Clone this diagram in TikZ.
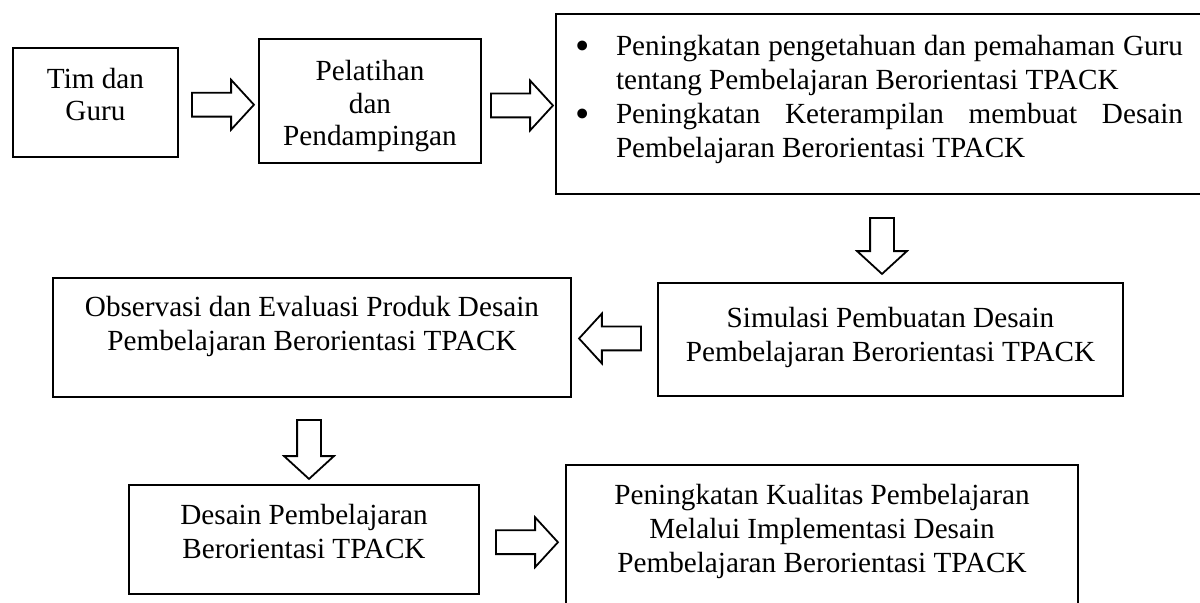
\documentclass[tikz,border=0pt]{standalone}
\usepackage{fontspec}
\setmainfont{Liberation Serif}
\usetikzlibrary{calc,shapes.arrows}
\newcommand{\bulletmark}{\leavevmode\llap{\raisebox{-1.6pt}{\scalebox{1.4}{\textbullet}}\hspace{13pt}}}
\tikzset{
  box/.style={draw, line width=1pt, inner sep=0pt, anchor=north west},
  barrow/.style={single arrow, draw, line width=0.9pt, inner xsep=0pt, inner ysep=5.5pt,
    single arrow head extend=6.5pt, minimum height=31pt, minimum width=24pt, single arrow tip angle=95},
  every node/.style={font=\fontsize{14.6pt}{17pt}\selectfont},
}
\begin{document}
\begin{tikzpicture}[x=0.5pt,y=-0.5pt]
\fill[white] (0,0) rectangle (1200,603);
\useasboundingbox (0,0) rectangle (1200,603);
% boxes
\node[box] (b1) at (12,47) {\parbox[c][54.5pt][t]{82.5pt}{\centering\fontsize{14.6pt}{16pt}\selectfont\rule{0pt}{20.5pt}Tim dan\\Guru}};
\node[box] (b2) at (258,38) {\parbox[c][62pt][t]{111pt}{\centering\fontsize{14.6pt}{16.25pt}\selectfont\rule{0pt}{21pt}Pelatihan\\dan\\Pendampingan}};
\node[box] (b3) at (555,13) {\parbox[c][90pt][t]{327.5pt}{%
  \hyphenpenalty=10000 \exhyphenpenalty=10000 \tolerance=10000 \parindent=0pt
  \leftskip=30pt \rightskip=14pt
  \rule{0pt}{21pt}\bulletmark Peningkatan pengetahuan dan pemahaman Guru tentang Pembelajaran Berorientasi TPACK\par
  \bulletmark Peningkatan Keterampilan membuat Desain Pembelajaran Berorientasi TPACK\par}};
\node[box] (b4) at (657,282) {\parbox[c][56.5pt][t]{232.5pt}{\centering\rule{0pt}{22.5pt}Simulasi Pembuatan Desain\\Pembelajaran Berorientasi TPACK}};
\node[box] (b5) at (52,277) {\parbox[c][59.5pt][t]{259pt}{\centering\rule{0pt}{19.5pt}Observasi dan Evaluasi Produk Desain\\Pembelajaran Berorientasi TPACK}};
\node[box] (b6) at (128,484) {\parbox[c][54.5pt][t]{175pt}{\centering\rule{0pt}{20pt}Desain Pembelajaran\\Berorientasi TPACK}};
\node[box] (b7) at (565,464) {\parbox[c][80pt][t]{256pt}{\centering\rule{0pt}{20pt}Peningkatan Kualitas Pembelajaran\\Melalui Implementasi Desain\\Pembelajaran Berorientasi TPACK}};
% block arrows
\node[barrow] (a1) at ($(b1.east)!0.5!(b2.west)+(-1,3)$) {};
\node[barrow] (a2) at ($(b2.east)!0.5!(b3.west)+(-2,3)$) {};
\node[barrow, rotate=-90, minimum height=28pt] (a3) at ($(b3.south)!0.5!(b4.north)+(-5,2)$) {};
\node[barrow, rotate=180] (a4) at ($(b5.east)!0.5!(b4.west)+(1,0)$) {};
\node[barrow, rotate=-90, minimum height=29.5pt] (a5) at ($(b6.north)!0.5!(b5.south)+(1,3)$) {};
\node[barrow] (a6) at ($(b6.east)!0.5!(b7.west)+(-1,0)$) {};
\end{tikzpicture}
\end{document}
